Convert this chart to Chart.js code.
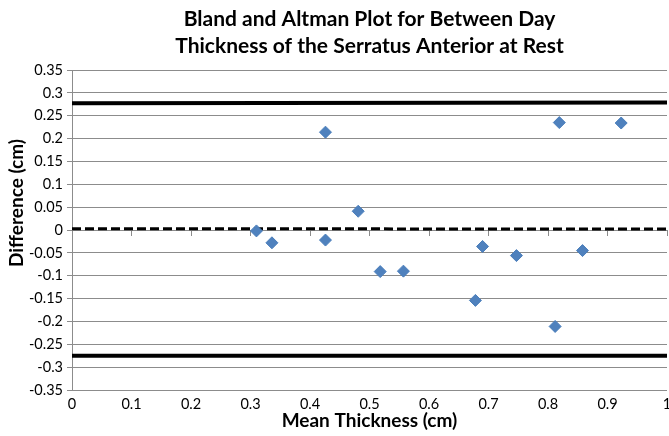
<!DOCTYPE html>
<html>
<head>
<meta charset="utf-8">
<script src="https://cdn.jsdelivr.net/npm/chart.js@4/dist/chart.umd.min.js"></script>
<style>
  html, body { margin: 0; padding: 0; background: #fff; }
  #wrap { width: 669px; height: 436px; }
</style>
</head>
<body>
<div id="wrap"><canvas id="chart" width="669" height="436"></canvas></div>
<script>
// Bland-Altman points
const meanThickness = [0.310, 0.336, 0.426, 0.426, 0.481, 0.518, 0.557, 0.678, 0.690, 0.747, 0.812, 0.819, 0.858, 0.923];
const difference    = [-0.002, -0.028, 0.214, -0.022, 0.041, -0.091, -0.090, -0.154, -0.036, -0.056, -0.211, 0.235, -0.045, 0.234];

// Limit lines and mean difference (value at each end of the x axis)
const lineEnds   = [0, 1];
const upperLimit = [0.277, 0.279];
const meanDiff   = [0.003, 0.002];
const lowerLimit = [-0.275, -0.275];

// Axes
const xTickLabels = ['0', '0.1', '0.2', '0.3', '0.4', '0.5', '0.6', '0.7', '0.8', '0.9', '1'];
const yTickLabels = ['-0.35', '-0.3', '-0.25', '-0.2', '-0.15', '-0.1', '-0.05', '0',
                     '0.05', '0.1', '0.15', '0.2', '0.25', '0.3', '0.35'];
const chartTitle = ['Bland and Altman Plot for Between Day', 'Thickness of the Serratus Anterior at Rest'];
const xTitle = 'Mean Thickness (cm)';
const yTitle = 'Difference (cm)';

const GRID = '#8c8c8c';
const tickFont = { family: 'Lato', size: 14.5 };
const titleFont = { family: 'Lato', size: 19, weight: 'bold' };

function toPoints(xs, ys) {
    return xs.map((x, i) => ({ x: x, y: ys[i] }));
}

// picks the label whose value matches the tick
function labelFor(list, value) {
    const found = list.find(l => Math.abs(parseFloat(l) - value) < 1e-6);
    return found === undefined ? '' : found;
}

// y axis title sits a bit above the middle of the plot, like the original
const yTitlePlugin = {
    id: 'yTitle',
    afterDraw(chart) {
        const ctx = chart.ctx;
        const area = chart.chartArea;
        ctx.save();
        ctx.translate(17, area.top + 133);
        ctx.rotate(-Math.PI / 2);
        ctx.font = 'bold 19px Lato';
        ctx.fillStyle = '#000';
        ctx.textAlign = 'center';
        ctx.textBaseline = 'middle';
        ctx.fillText(yTitle, 0, 0);
        ctx.restore();
    }
};

const lineStyle = {
    type: 'line',
    borderColor: '#000',
    pointRadius: 0,
    fill: false,
    tension: 0,
    xAxisID: 'x',
    yAxisID: 'y'
};

const noSidePadding = s => { s.paddingLeft = 0; s.paddingRight = 0; };

new Chart(document.getElementById('chart').getContext('2d'), {
    type: 'scatter',
    data: {
        datasets: [{
            label: 'Difference',
            data: toPoints(meanThickness, difference),
            pointStyle: 'rectRot',
            pointRadius: 6,
            backgroundColor: '#4F81BD',
            borderColor: '#4A7EBB',
            borderWidth: 1,
            xAxisID: 'x',
            yAxisID: 'y',
            order: 0
        }, Object.assign({}, lineStyle, {
            label: 'Upper limit',
            data: toPoints(lineEnds, upperLimit),
            borderWidth: 4,
            order: 1
        }), Object.assign({}, lineStyle, {
            label: 'Mean difference',
            data: toPoints(lineEnds, meanDiff),
            borderWidth: 3,
            borderDash: [9, 4],
            order: 1
        }), Object.assign({}, lineStyle, {
            label: 'Lower limit',
            data: toPoints(lineEnds, lowerLimit),
            borderWidth: 4,
            order: 1
        })]
    },
    options: {
        responsive: false,
        animation: false,
        devicePixelRatio: 1,
        layout: { autoPadding: false, padding: { left: 0, right: 2, top: 0, bottom: 0 } },
        scales: {
            x: {
                type: 'linear',
                position: 'bottom',
                min: 0,
                max: 1,
                grid: { display: false, drawTicks: false },
                border: { display: false },
                ticks: {
                    stepSize: 0.1,
                    color: '#000',
                    font: tickFont,
                    padding: 6,
                    maxRotation: 0,
                    callback: v => labelFor(xTickLabels, v)
                },
                title: {
                    display: true,
                    text: xTitle,
                    color: '#000',
                    font: titleFont,
                    padding: { top: 0, bottom: 4 }
                },
                afterFit: s => { s.height = 46; noSidePadding(s); }
            },
            // axis line with tick marks crossing at y = 0, as Excel draws it
            x2: {
                type: 'linear',
                axis: 'x',
                position: { y: 0 },
                min: 0,
                max: 1,
                grid: { drawOnChartArea: false, drawTicks: true, tickLength: 5, color: GRID },
                border: { color: GRID, width: 1 },
                ticks: { display: false, stepSize: 0.1 },
                afterFit: noSidePadding
            },
            y: {
                type: 'linear',
                min: -0.35,
                max: 0.35,
                grid: { color: GRID, lineWidth: 1, drawTicks: true, tickLength: 5 },
                border: { color: GRID, width: 1 },
                ticks: {
                    stepSize: 0.05,
                    color: '#000',
                    font: tickFont,
                    padding: 4,
                    callback: v => labelFor(yTickLabels, v)
                },
                afterFit: s => { s.width = 72; }
            }
        },
        plugins: {
            legend: { display: false },
            tooltip: { enabled: false },
            title: {
                display: true,
                fullSize: false,
                text: chartTitle,
                color: '#000',
                font: { family: 'Lato', size: 21, weight: 'bold', lineHeight: '27px' },
                padding: { top: 6, bottom: 10 }
            }
        }
    },
    plugins: [yTitlePlugin]
});
</script>
</body>
</html>
